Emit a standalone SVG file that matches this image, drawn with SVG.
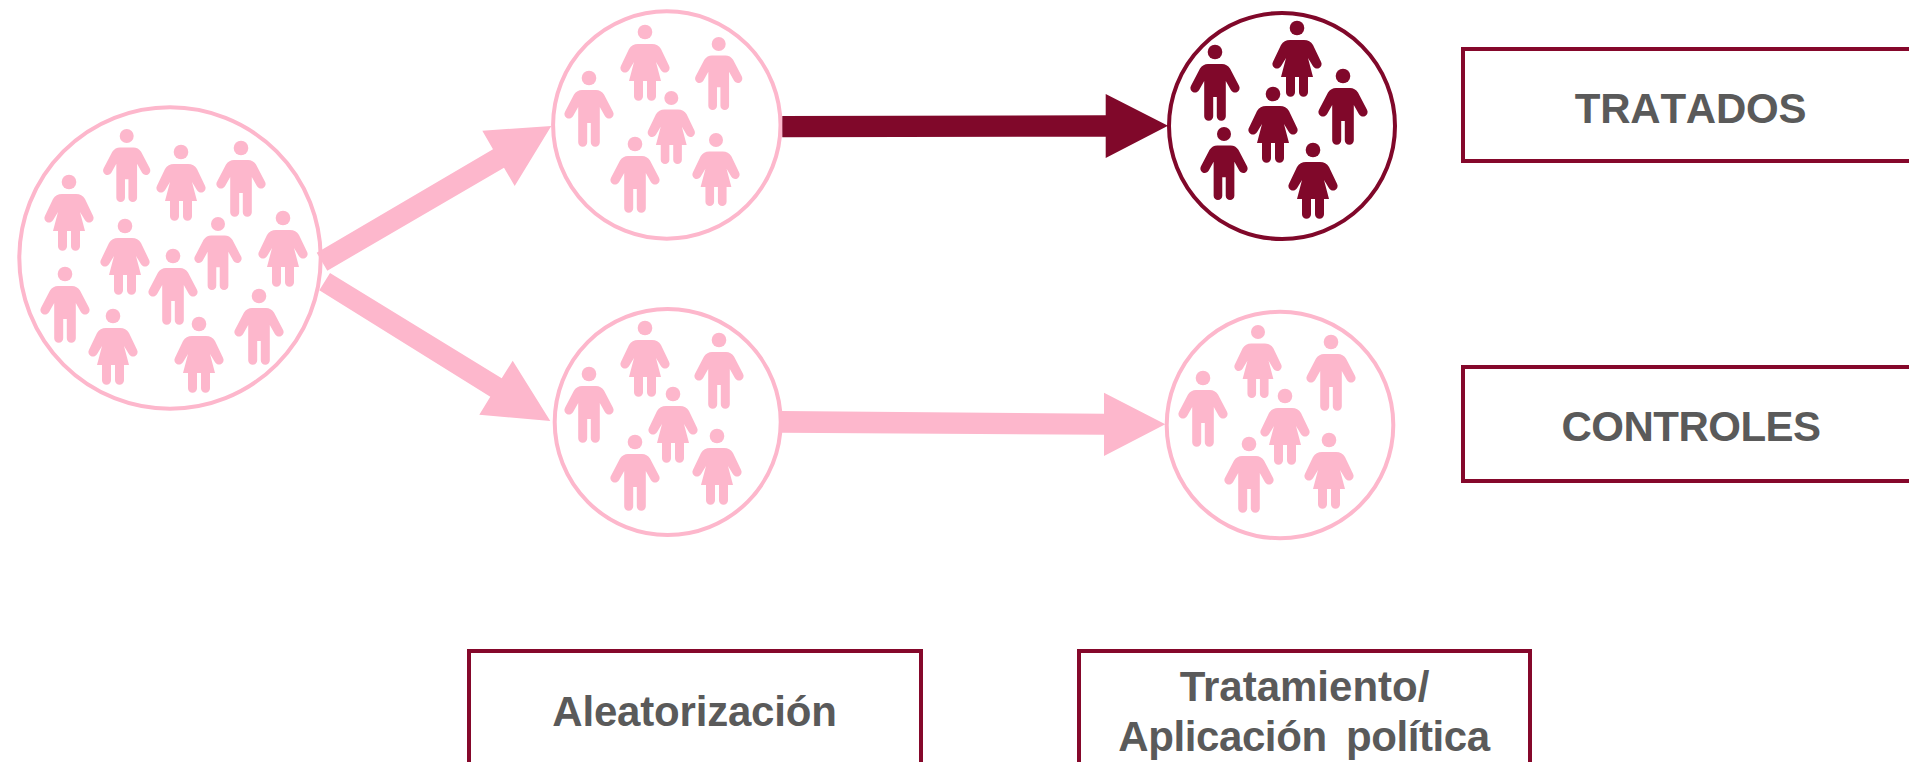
<svg xmlns="http://www.w3.org/2000/svg" xmlns:xlink="http://www.w3.org/1999/xlink" width="1909" height="762" viewBox="0 0 1909 762">
<style>
.bg{fill:#fff}
.pink{color:#FDB7CC}
.dark{color:#80082A}
.ring{fill:#fff;stroke:currentColor;stroke-width:4}
.p{fill:currentColor}
.box{fill:#fff;stroke:#85082B;stroke-width:4}
.lbl{font-family:"Liberation Sans",Arial,sans-serif;font-weight:700;font-size:42px;fill:#5A5A5A;text-anchor:middle}
</style>
<defs>
<g id="man" class="p"><circle cx="0" cy="0" r="7.3"/><path d="M0 12H7Q12 12 15 16.5L24 33.7A4.6 4.6 0 0 1 16 38.3L10.8 29V64.2A4.5 4.5 0 0 1 1.8 64.2V45H-1.8V64.2A4.5 4.5 0 0 1-10.8 64.2V29L-16 38.3A4.6 4.6 0 0 1-24 33.7L-15 16.5Q-12 12-7 12Z"/></g>
<g id="woman" class="p"><circle cx="0" cy="0" r="7.3"/><path d="M0 12H7Q13 12 16 17L24 33.7A4.6 4.6 0 0 1 16 38.3L11 30L16 49H11V64.2A4.5 4.5 0 0 1 2 64.2V49H-2V64.2A4.5 4.5 0 0 1-11 64.2V49H-16L-11 30L-16 38.3A4.6 4.6 0 0 1-24 33.7L-16 17Q-13 12-7 12Z"/></g>
</defs>
<rect class="bg" width="1909" height="762"/>

<g id="population" class="pink">
<circle class="ring" cx="170" cy="258" r="150.7"/>
<use href="#man" transform="translate(126.7 136) scale(.96)"/>
<use href="#woman" transform="translate(181 152)"/>
<use href="#man" transform="translate(241 148)"/>
<use href="#woman" transform="translate(69 182)"/>
<use href="#woman" transform="translate(125 226)"/>
<use href="#man" transform="translate(218 224) scale(.96)"/>
<use href="#woman" transform="translate(283 218)"/>
<use href="#man" transform="translate(173 256)"/>
<use href="#man" transform="translate(65 274)"/>
<use href="#woman" transform="translate(113 316)"/>
<use href="#woman" transform="translate(199 324)"/>
<use href="#man" transform="translate(259 296)"/>
</g>

<g id="grupo-tratamiento" class="pink">
<circle class="ring" cx="666.8" cy="125" r="113.7"/>
<use href="#man" transform="translate(589 78)"/>
<use href="#woman" transform="translate(645 32)"/>
<use href="#man" transform="translate(718.7 44) scale(.96)"/>
<use href="#woman" transform="translate(671.3 98) scale(.96)"/>
<use href="#man" transform="translate(635 144)"/>
<use href="#woman" transform="translate(716 140) scale(.96)"/>
</g>

<g id="grupo-control" class="pink">
<circle class="ring" cx="667.7" cy="422" r="113"/>
<use href="#man" transform="translate(589 374)"/>
<use href="#woman" transform="translate(645 328)"/>
<use href="#man" transform="translate(719 340)"/>
<use href="#woman" transform="translate(673 394)"/>
<use href="#man" transform="translate(635 442)"/>
<use href="#woman" transform="translate(717 436)"/>
</g>

<g id="tratados-personas" class="dark">
<circle class="ring" cx="1282" cy="126" r="113"/>
<use href="#man" transform="translate(1215 52)"/>
<use href="#woman" transform="translate(1297 28)"/>
<use href="#man" transform="translate(1343 76)"/>
<use href="#woman" transform="translate(1273 94)"/>
<use href="#man" transform="translate(1224 134) scale(.96)"/>
<use href="#woman" transform="translate(1313 150)"/>
</g>

<g id="controles-personas" class="pink">
<circle class="ring" cx="1280" cy="425" r="113.3"/>
<use href="#man" transform="translate(1203 378)"/>
<use href="#woman" transform="translate(1258 332) scale(.96)"/>
<use href="#man" transform="translate(1331 342)"/>
<use href="#woman" transform="translate(1285 396)"/>
<use href="#man" transform="translate(1249 444)"/>
<use href="#woman" transform="translate(1329 440)"/>
</g>

<g id="connectors">
<polygon fill="#FDB7CC" points="316.7,252.7 327.3,270.7 504,167.7 514.7,186 551.3,126 482.3,130.7 493,149.3"/>
<polygon fill="#FDB7CC" points="330,273 319.3,290.3 490.3,396.7 479.3,414.7 550.3,421 512.7,360.7 501.7,378.3"/>
<polygon fill="#80082A" points="782.3,116 782.3,137.3 1105.7,136.7 1105.7,158 1168,125.7 1105.7,94 1105.7,115.3"/>
<polygon fill="#FDB7CC" points="782,411 782,432.7 1104,434.7 1104,456 1165.3,424.3 1104,392.7 1104,413.7"/>
</g>

<g id="tratados">
<rect class="box" x="1463" y="49" width="470" height="112"/>
<text class="lbl" x="1690.5" y="123" style="font-kerning:none;letter-spacing:-.25px">TRATADOS</text>
</g>
<g id="controles">
<rect class="box" x="1463" y="367" width="470" height="114"/>
<text class="lbl" x="1691" y="441" style="letter-spacing:-.5px">CONTROLES</text>
</g>
<g id="aleatorizacion">
<rect class="box" x="469" y="651" width="452" height="130"/>
<text class="lbl" x="694.5" y="726" style="letter-spacing:-.2px">Aleatorización</text>
</g>
<g id="tratamiento">
<rect class="box" x="1079" y="651" width="451" height="130"/>
<text class="lbl" x="1304.5" y="701">Tratamiento/</text>
<text class="lbl" x="1304" y="751" style="letter-spacing:-.4px;word-spacing:8px">Aplicación política</text>
</g>
</svg>
